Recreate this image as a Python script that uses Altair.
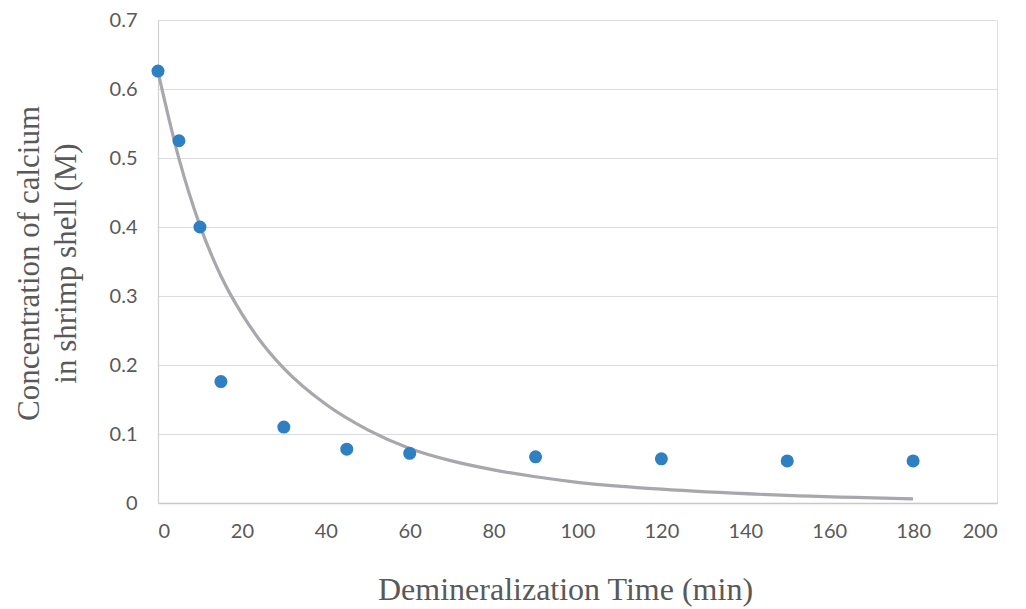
import altair as alt
import pandas as pd

# Measured data points
time_min = [0, 5, 10, 15, 30, 45, 60, 90, 120, 150, 180]
calcium_M = [0.626, 0.525, 0.400, 0.176, 0.110, 0.078, 0.072, 0.067, 0.064, 0.061, 0.061]

# Trend curve
trend_x = [0, 5, 10, 15, 20, 25, 30, 40, 50, 60, 70, 80, 90, 100, 120, 150, 180]
trend_y = [0.625, 0.499, 0.402, 0.329, 0.274, 0.230, 0.195, 0.143, 0.106, 0.079, 0.061, 0.048, 0.038, 0.030, 0.020, 0.011, 0.006]

x_ticks = [0, 20, 40, 60, 80, 100, 120, 140, 160, 180, 200]
y_ticks = [0, 0.1, 0.2, 0.3, 0.4, 0.5, 0.6, 0.7]

pts = pd.DataFrame({"t": time_min, "c": calcium_M})
trend = pd.DataFrame({"t": trend_x, "c": trend_y})

label_font = "Lato"
title_font = "Liberation Serif"
gray = "#595959"

x_enc = alt.X(
    "t:Q",
    scale=alt.Scale(domain=[0, 200], nice=False, zero=True),
    axis=alt.Axis(
        values=x_ticks,
        title="Demineralization Time (min)",
        grid=False,
        ticks=False,
        domainColor="#C8C8CC",
        domainWidth=1.5,
        labelFont=label_font,
        labelFontSize=20,
        labelColor=gray,
        labelPadding=18,
        titleFont=title_font,
        titleFontSize=32,
        titleFontWeight="normal",
        titleColor=gray,
        titleX=407,
        titleY=96,
        titleBaseline="alphabetic",
    ),
)
y_enc = alt.Y(
    "c:Q",
    scale=alt.Scale(domain=[0, 0.7], nice=False),
    axis=alt.Axis(
        values=y_ticks,
        format="~g",
        title=["Concentration of calcium", "in shrimp shell (M)"],
        grid=True,
        gridColor="#DCDCE4",
        gridWidth=1.2,
        ticks=False,
        domainColor="#D0D0D4",
        domainWidth=1.2,
        labelFont=label_font,
        labelFontSize=20,
        labelColor=gray,
        labelPadding=21,
        titleFont=title_font,
        titleFontSize=31,
        titleFontWeight="normal",
        titleColor=gray,
        titleAngle=-90,
        titleX=-120,
        titleY=243,
        titleBaseline="alphabetic",
        titleLineHeight=37,
    ),
)

line = alt.Chart(trend).mark_line(
    color="#A7A7AE", strokeWidth=3.2, interpolate="monotone"
).encode(x=x_enc, y=y_enc)

points = alt.Chart(pts).mark_circle(
    color="#2E80C2", size=170, opacity=1
).encode(x="t:Q", y="c:Q")

chart = (
    alt.layer(line, points)
    .properties(
        width=839,
        height=483,
        autosize=alt.AutoSizeParams(type="none"),
        padding={"left": 150, "top": 12, "right": 21, "bottom": 104},
    )
    .configure_view(stroke=None)
    .configure(background="white")
)

chart.save("out.html", embed_options={"renderer": "svg", "actions": False})
